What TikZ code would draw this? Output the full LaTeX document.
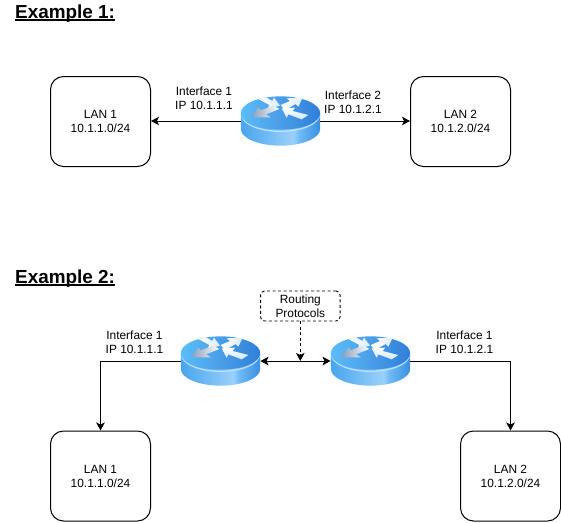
\documentclass[tikz,border=0pt]{standalone}
\usepackage{fontspec}
\setmainfont{Liberation Sans}
\usetikzlibrary{arrows.meta,positioning}
\definecolor{rA}{HTML}{5ABDF8}
\definecolor{rB}{HTML}{4A9EE8}
\definecolor{rC}{HTML}{2F7FD8}
\definecolor{sA}{HTML}{49A5EC}
\definecolor{sB}{HTML}{6CB9F4}
\definecolor{sC}{HTML}{9AD0FB}
\definecolor{sD}{HTML}{3A8FE2}
\definecolor{tipc}{HTML}{8C9CB8}
\pgfdeclarehorizontalshading{rtop}{100bp}{color(0bp)=(rA); color(25bp)=(rA); color(50bp)=(rB); color(75bp)=(rC); color(100bp)=(rC)}
\pgfdeclarehorizontalshading{rside}{100bp}{color(0bp)=(sA); color(25bp)=(sA); color(40bp)=(sB); color(58bp)=(sC); color(62bp)=(sB); color(75bp)=(sD); color(100bp)=(sD)}
\tikzset{
  x=1pt,y=-1pt,
  lan/.style={draw=black,line width=1pt,rounded corners=13pt,minimum width=100pt,minimum height=90pt,align=center,inner sep=0pt,font=\fontsize{11.9}{14}\selectfont},
  note/.style={draw=black,line width=0.9pt,dashed,dash pattern=on 3pt off 2.5pt,rounded corners=4pt,minimum width=79.5pt,minimum height=30pt,align=center,inner sep=0pt,font=\fontsize{11.9}{14}\selectfont},
  lbl/.style={align=center,inner sep=0pt,font=\fontsize{11.9}{14}\selectfont},
  head/.style={anchor=base west,inner sep=0pt,font=\fontsize{18.9}{22}\selectfont\bfseries},
  rbox/.style={minimum width=79.5pt,minimum height=50pt,inner sep=0pt},
  link/.style={draw=black,line width=1pt},
  tipb/.style={-{Stealth[length=8pt,width=8.5pt,inset=2pt]}},
  tipd/.style={{Stealth[length=8pt,width=8.5pt,inset=2pt]}-{Stealth[length=8pt,width=8.5pt,inset=2pt]}}
}
\newcommand{\headul}[1]{\setbox0\hbox{#1}\rlap{\rule[-2.6pt]{\wd0}{1.3pt}}\box0}
\newcommand{\routericon}[2]{%
  \node[rbox] (#1) at (#2) {};
  \begin{scope}[shift={(#1.center)},x=0.3333pt,y=-0.3333pt]
    \shade[shading=rside] (-119,-24) -- (-119,24) arc[start angle=180,end angle=0,x radius=119,y radius=50] -- (119,-24) -- cycle;
    \fill[white!55!sB] (-119,-24) arc[start angle=180,end angle=0,x radius=119,y radius=53] -- (119,-20) arc[start angle=0,end angle=180,x radius=119,y radius=53] -- cycle;
    \shade[shading=rtop] (0,-24) ellipse[x radius=119,y radius=50];
    \begin{scope}[shift={(-151.5,-108)}]
      \shade[left color=white,right color=white!80!rB] (85,42) -- (108,37) -- (127,48) -- (132,38) -- (150,62) -- (112,72) -- (118,60) -- cycle;
      \shade[left color=tipc,middle color=white!85!rB,right color=white] (63,97) -- (85,68) -- (92,76) -- (130,62) -- (148,72) -- (108,88) -- (122,97) -- cycle;
      \shade[left color=white,right color=white!80!rB] (218,38) -- (205,65) -- (197,57) -- (165,75) -- (152,60) -- (180,48) -- (170,40) -- cycle;
      \shade[top color=white,bottom color=white!75!rB] (155,70) -- (195,68) -- (188,78) -- (235,90) -- (215,103) -- (175,88) -- (170,98) -- cycle;
    \end{scope}
  \end{scope}
}
\begin{document}
\begin{tikzpicture}
\useasboundingbox (0,0) rectangle (561,522);
\node[head] (h1) at (15,18) {\headul{Example 1:}};
\node[head] (h2) at (15,283) {\headul{Example 2:}};
% Example 1
\node[lan] (a1) at (100.5,121.5) {LAN 1\\10.1.1.0/24};
\node[lan] (a2) at (460.5,121.5) {LAN 2\\10.1.2.0/24};
\routericon{ra}{280.5,121}
\draw[link,tipb] (ra.west) -- (a1.east |- ra.west);
\draw[link,tipb] (ra.east) -- (a2.west |- ra.east);
\node[lbl] (la) at (204,98) {Interface 1\\IP 10.1.1.1};
\node[lbl] (lb) at (353,102) {Interface 2\\IP 10.1.2.1};
% Example 2
\node[lan] (b1) at (100.5,476) {LAN 1\\10.1.1.0/24};
\node[lan] (b2) at (510.5,476) {LAN 2\\10.1.2.0/24};
\routericon{rb}{220.5,361}
\routericon{rc}{370.5,361}
\node[note] (rp) at (300.3,306) {Routing\\Protocols};
\coordinate (mid) at (rp.south |- rb.east);
\draw[link,tipd] (rb.east) -- (rc.west);
\draw[link,tipb,dashed,dash pattern=on 3pt off 2.5pt] (rp.south) -- (mid);
\draw[link,tipb] (rb.west) -| (b1.north);
\draw[link,tipb] (rc.east) -| (b2.north);
\node[lbl] (lc) at (134.5,342) {Interface 1\\IP 10.1.1.1};
\node[lbl] (ld) at (464.5,342) {Interface 1\\IP 10.1.2.1};
\end{tikzpicture}
\end{document}
